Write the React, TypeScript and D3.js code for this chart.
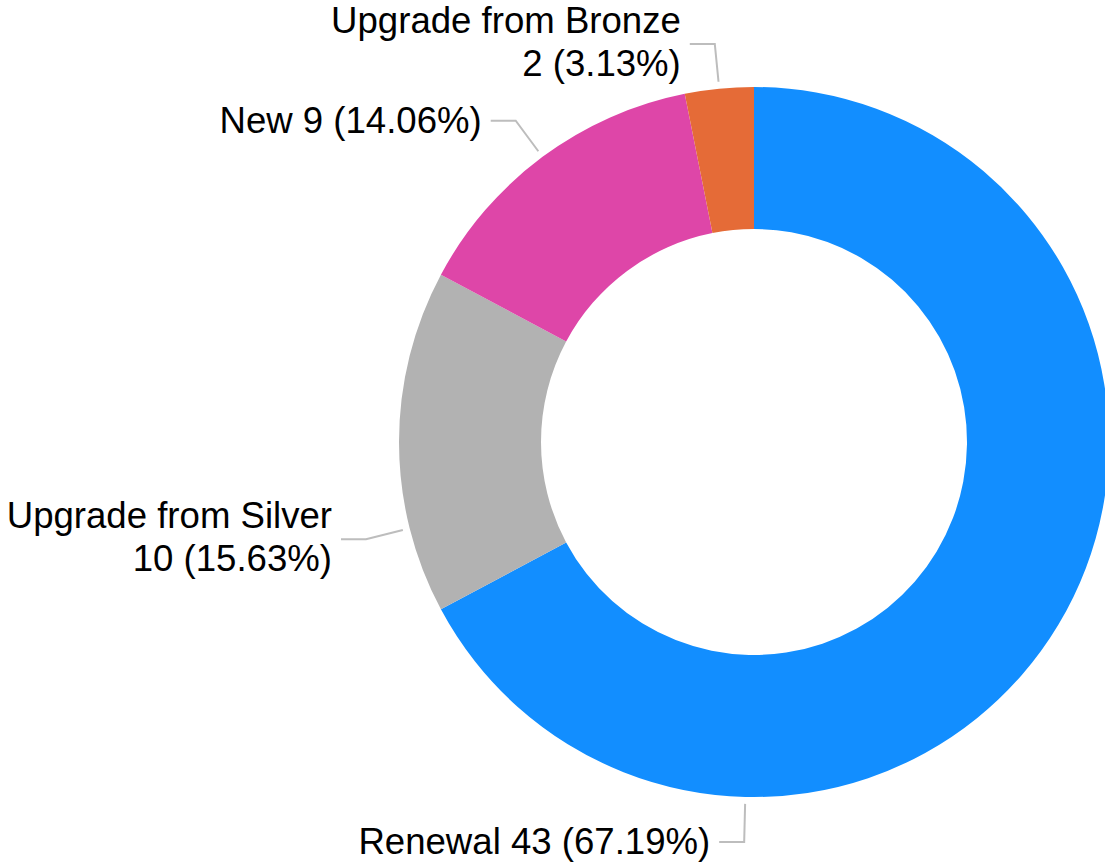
import React from "react";
import * as d3 from "d3";

const categories = ["Renewal", "Upgrade from Silver", "New", "Upgrade from Bronze"];
const values = [43, 10, 9, 2];
const colors = ["#128eff", "#b2b2b2", "#de46a8", "#e56b37"];
// where along each slice the leader line starts (0..1) and whether the label wraps
const labelAt = [0.75, 0.25, 0.5, 0.5];
const wrap = [false, true, false, true];

const width = 1105;
const height = 863;
const cx = 754;
const cy = 442;
const outerR = 355;
const innerR = 213;
const fontSize = 36.6;

const total = d3.sum(values);

const App = () => {
  const pie = d3
    .pie<number>()
    .sort(null)
    .value((d) => d);
  const arcs = pie(values);

  const arc = d3
    .arc<d3.PieArcDatum<number>>()
    .innerRadius(innerR)
    .outerRadius(outerR);

  const polar = (angle: number, r: number): [number, number] => [
    Math.sin(angle) * r,
    -Math.cos(angle) * r,
  ];

  return (
    <svg
      width={width}
      height={height}
      style={{ position: "absolute", left: 0, top: 0, fontFamily: "'Liberation Sans', Arial, sans-serif" }}
    >
      <g transform={`translate(${cx},${cy})`}>
        {arcs.map((a, i) => (
          <path key={i} d={arc(a) as string} fill={colors[i]} />
        ))}
        {arcs.map((a, i) => {
          const ang = a.startAngle + (a.endAngle - a.startAngle) * labelAt[i];
          const p0 = polar(ang, outerR + 7);
          const p1 = polar(ang, outerR + 45);
          const side = p1[0] < 0 ? -1 : 1;
          const p2: [number, number] = [p1[0] + side * 25, p1[1]];
          const pct = ((values[i] / total) * 100).toFixed(2);
          const numText = `${values[i]} (${pct}%)`;
          const lines = wrap[i] ? [categories[i], numText] : [`${categories[i]} ${numText}`];
          const tx = p2[0] + side * 9;
          return (
            <g key={`l${i}`}>
              <polyline
                points={[p0, p1, p2].map((p) => p.join(",")).join(" ")}
                fill="none"
                stroke="#bdbdbd"
                strokeWidth={2}
              />
              <text
                x={tx}
                y={p2[1]}
                textAnchor={side < 0 ? "end" : "start"}
                fontSize={fontSize}
                fill="#000"
              >
                {lines.map((t, j) => (
                  <tspan key={j} x={tx} y={p2[1] + 12 - 23 * (lines.length - 1) + 43 * j}>
                    {t}
                  </tspan>
                ))}
              </text>
            </g>
          );
        })}
      </g>
    </svg>
  );
};

export default App;
